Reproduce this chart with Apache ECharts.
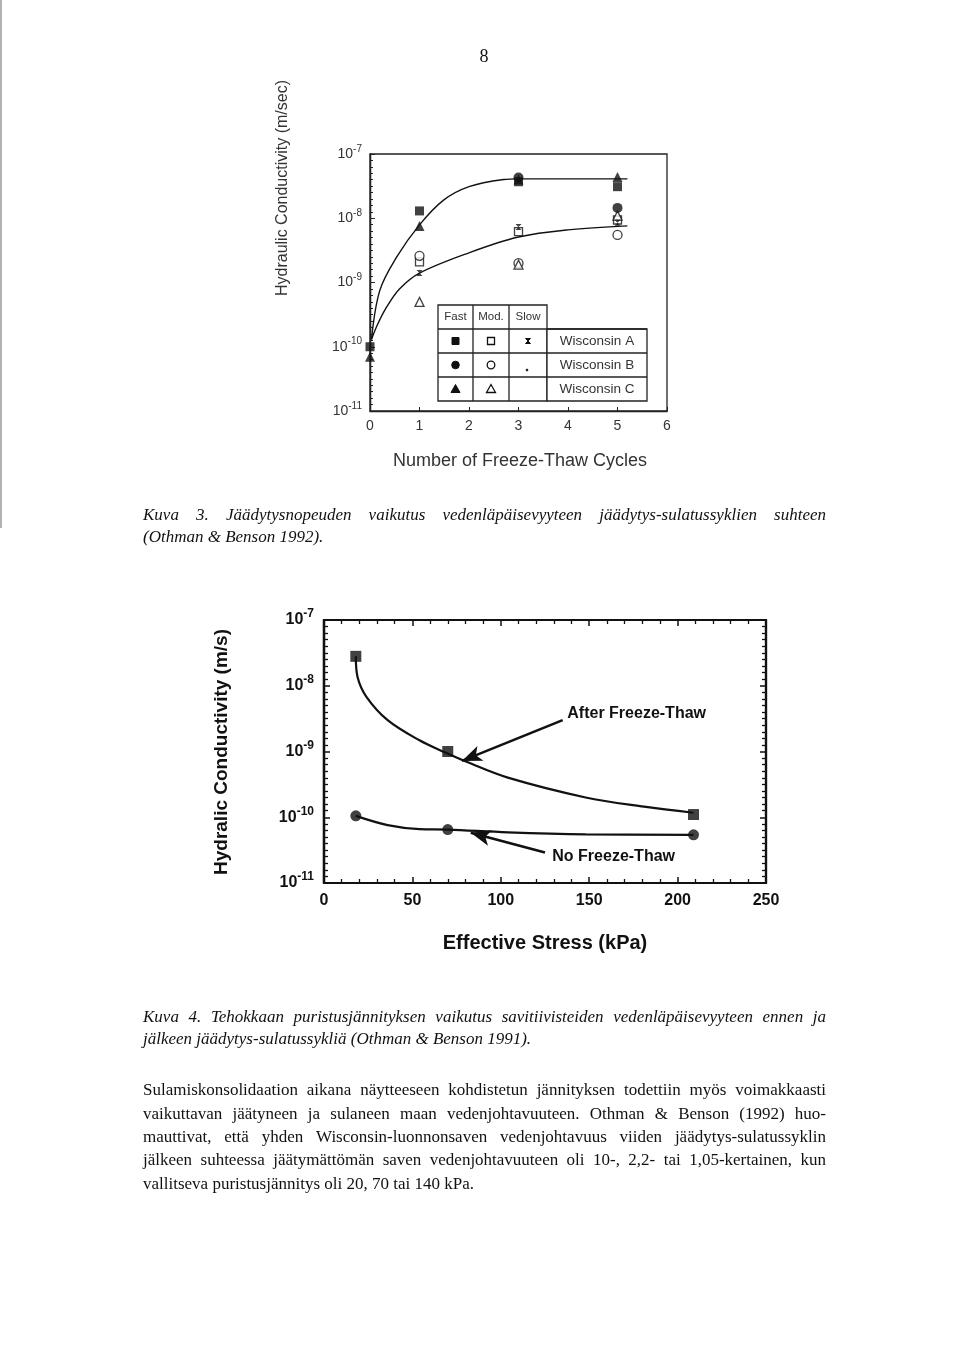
<!DOCTYPE html>
<html><head><meta charset="utf-8">
<script src="https://cdn.jsdelivr.net/npm/echarts@6/dist/echarts.min.js"></script>
<style>html,body{margin:0;padding:0;background:#fff}#c{width:960px;height:1368px}</style>
</head><body><div id="c"></div>
<script>
// ---------- Chart 1 (Kuva 3) data: hydraulic conductivity vs freeze-thaw cycles ----------
const cycleTicks = [0, 1, 2, 3, 4, 5, 6];
const aFastX = [0, 1, 3, 5];       const aFastY = [1.0e-10, 1.3e-8, 3.7e-8, 3.1e-8];
const aModX  = [1, 3, 5];          const aModY  = [2.1e-9, 6.2e-9, 9.4e-9];
const aSlowX = [1, 3, 5];          const aSlowY = [1.4e-9, 7.3e-9, 8.5e-9];
const bFastX = [3, 5];             const bFastY = [4.3e-8, 1.45e-8];
const bModX  = [1, 3, 5];          const bModY  = [2.6e-9, 2.0e-9, 5.5e-9];
const cFastX = [0, 1, 3, 5];       const cFastY = [7.0e-11, 7.6e-9, 4.0e-8, 4.4e-8];
const cModX  = [1, 3, 5];          const cModY  = [5.0e-10, 1.9e-9, 1.1e-8];
const upperCurveX = [0.03, 0.2, 0.54, 1.0, 1.48, 2.0, 2.7, 3.0, 4.0, 5.2];
const upperCurveY = [1.3e-10, 7.6e-10, 2.5e-9, 7.9e-9, 1.9e-8, 3.1e-8, 4.0e-8, 4.1e-8, 4.1e-8, 4.1e-8];
const lowerCurveX = [0.03, 0.15, 0.34, 0.6, 1.0, 2.0, 3.0, 4.0, 5.2];
const lowerCurveY = [1.3e-10, 2.2e-10, 4.2e-10, 8.0e-10, 1.4e-9, 2.9e-9, 5.1e-9, 6.6e-9, 7.6e-9];
const legendRows = ['Wisconsin A', 'Wisconsin B', 'Wisconsin C'];
const legendCols = ['Fast', 'Mod.', 'Slow'];

// ---------- Chart 2 (Kuva 4) data: hydraulic conductivity vs effective stress ----------
const stressTicks = [0, 50, 100, 150, 200, 250];
const afterX = [18, 70, 209];      const afterY = [2.8e-8, 1.0e-9, 1.1e-10];
const noFtX  = [18, 70, 209];      const noFtY  = [1.05e-10, 6.5e-11, 5.4e-11];
const afterCurveX = [18, 19, 24, 36, 54, 68, 81, 104, 148, 181, 209];
const afterCurveY = [2.8e-8, 1.35e-8, 6.8e-9, 3.0e-9, 1.48e-9, 9.8e-10, 6.9e-10, 4.0e-10, 2.0e-10, 1.45e-10, 1.17e-10];
const noFtCurveX = [18, 36, 54, 70, 104, 148, 209];
const noFtCurveY = [1.05e-10, 7.6e-11, 6.6e-11, 6.5e-11, 5.9e-11, 5.5e-11, 5.4e-11];
const afterArrow = [[135, 3.0e-9], [78, 7.2e-10]];
const noFtArrow  = [[125, 2.9e-11], [83, 5.8e-11]];
const exponentRange = [-11, -7];

// ---------- Text ----------
const pageNumber = '8';
const caption3 = ['Kuva 3. Jäädytysnopeuden vaikutus vedenläpäisevyyteen jäädytys-sulatussyklien suhteen',
                  '(Othman & Benson 1992).'];
const caption4 = ['Kuva 4. Tehokkaan puristusjännityksen vaikutus savitiivisteiden vedenläpäisevyyteen ennen ja',
                  'jälkeen jäädytys-sulatussykliä (Othman & Benson 1991).'];
const paragraph = ['Sulamiskonsolidaation aikana näytteeseen kohdistetun jännityksen todettiin myös voimakkaasti',
                   'vaikuttavan jäätyneen ja sulaneen maan vedenjohtavuuteen. Othman & Benson (1992) huo-',
                   'mauttivat, että yhden Wisconsin-luonnonsaven vedenjohtavuus viiden jäädytys-sulatussyklin',
                   'jälkeen suhteessa jäätymättömän saven vedenjohtavuuteen oli 10-, 2,2- tai 1,05-kertainen, kun',
                   'vallitseva puristusjännitys oli 20, 70 tai 140 kPa.'];

const zip = (xs, ys) => xs.map((x, i) => [x, ys[i]]);

// ---------- text helpers ----------
const cv = document.createElement('canvas').getContext('2d');
function fontStr(o) { return (o.fontStyle || 'normal') + ' ' + (o.fontWeight || 'normal') + ' ' + o.fontSize + 'px "' + o.fontFamily + '"'; }
function measure(t, o) { cv.font = fontStr(o); return cv.measureText(t).width; }
function txt(x, y, text, o) {
  o = o || {};
  const st = Object.assign({ text: text, fill: '#111', fontFamily: 'Liberation Serif', fontSize: 17,
    align: 'left', textAlign: 'left', verticalAlign: 'middle', textVerticalAlign: 'middle' }, o.style || {});
  const el = { type: 'text', x: x, y: y, silent: true, z: 100, style: st };
  if (o.rotation) el.rotation = o.rotation;
  if (o.scaleX) el.scaleX = o.scaleX;
  return el;
}
function center(o) { return Object.assign({ align: 'center', textAlign: 'center' }, o); }
const graphics = [];
function lineBlock(lines, y0, dy, fo, x0, x1, scale, justifyAll) {
  lines.forEach((ln, li) => {
    const y = y0 + li * dy;
    const words = ln.split(' ');
    const widths = words.map(w => measure(w, fo) * scale);
    const sum = widths.reduce((a, b) => a + b, 0);
    const just = justifyAll[li];
    const gap = just ? (x1 - x0 - sum) / (words.length - 1) : measure(' ', fo) * scale;
    let x = x0;
    words.forEach((w, i) => {
      graphics.push(txt(x, y, w, { style: fo, scaleX: scale }));
      x += widths[i] + gap;
    });
  });
}
const serif = { fontFamily: 'Liberation Serif', fontSize: 17, fill: '#111' };
const serifIt = { fontFamily: 'Liberation Serif', fontSize: 17, fontStyle: 'italic', fill: '#111' };
let sPar = Math.min(1, 678 / measure(paragraph[0], serif));
let sCap = Math.min(1, 678 / measure(caption4[0], serifIt));

graphics.push(txt(484, 57, pageNumber, { style: center({ fontSize: 18 }) }));
graphics.push({ type: 'line', silent: true, shape: { x1: 1, y1: 0, x2: 1, y2: 528 }, style: { stroke: '#999', lineWidth: 1.5 } });
lineBlock(caption3, 516, 22, serifIt, 143, 826, sCap, [true, false]);
lineBlock(caption4, 1018, 22, serifIt, 143, 826, sCap, [true, false]);
lineBlock(paragraph, 1091, 23.3, serif, 143, 826, sPar, [true, true, true, true, false]);

// Chart 1 axis names
const sans1 = { fontFamily: 'Liberation Sans', fill: '#333' };
graphics.push(txt(283, 188, 'Hydraulic Conductivity (m/sec)', { rotation: Math.PI / 2, style: center(Object.assign({ fontSize: 16 }, sans1)) }));
graphics.push(txt(520, 461, 'Number of Freeze-Thaw Cycles', { style: center(Object.assign({ fontSize: 18 }, sans1)) }));

// Chart 1 legend table
const tl = { stroke: '#222', lineWidth: 1.3 };
function ln(x1, y1, x2, y2) { graphics.push({ type: 'line', silent: true, z: 90, shape: { x1, y1, x2, y2 }, style: tl }); }
graphics.push({ type: 'rect', silent: true, z: 80, shape: { x: 438, y: 305, width: 109, height: 96 }, style: { fill: '#fff', stroke: '#222', lineWidth: 1.3 } });
graphics.push({ type: 'rect', silent: true, z: 80, shape: { x: 547, y: 329, width: 100, height: 72 }, style: { fill: '#fff', stroke: '#222', lineWidth: 1.3 } });
ln(473, 305, 473, 401); ln(509, 305, 509, 401);
ln(438, 329, 647, 329); ln(438, 353, 647, 353); ln(438, 377, 647, 377);
const colC = [455.5, 491, 528];
legendCols.forEach((c, i) => graphics.push(txt(colC[i], 317, c, { style: center(Object.assign({ fontSize: 11.5 }, sans1)) })));
legendRows.forEach((r, i) => graphics.push(txt(597, 341 + i * 24, r, { style: center(Object.assign({ fontSize: 13.5 }, sans1)) })));
const fillS = { fill: '#111', stroke: '#111', lineWidth: 1 };
const openS = { fill: '#fff', stroke: '#111', lineWidth: 1.3 };
function sym(kind, cx, cy, st) {
  let el;
  if (kind === 'sq') el = { type: 'rect', shape: { x: cx - 3.5, y: cy - 3.5, width: 7, height: 7 } };
  else if (kind === 'ci') el = { type: 'circle', shape: { cx, cy, r: 3.8 } };
  else if (kind === 'tr') el = { type: 'polygon', shape: { points: [[cx, cy - 4.5], [cx + 4.5, cy + 3.5], [cx - 4.5, cy + 3.5]] } };
  else if (kind === 'bt') el = { type: 'polygon', shape: { points: [[cx - 2.5, cy - 2.5], [cx + 2.5, cy - 2.5], [cx - 2.5, cy + 2.5], [cx + 2.5, cy + 2.5]] } };
  else if (kind === 'dot') el = { type: 'circle', shape: { cx, cy, r: 0.9 } };
  el.silent = true; el.z = 95; el.style = st; graphics.push(el);
}
sym('sq', colC[0], 341, fillS); sym('sq', colC[1], 341, openS); sym('bt', colC[2], 341, fillS);
sym('ci', colC[0], 365, fillS); sym('ci', colC[1], 365, openS); sym('dot', 527, 370, fillS);
sym('tr', colC[0], 389, fillS); sym('tr', colC[1], 389, openS);

// Chart 2 names and annotations
const sans2 = { fontFamily: 'Liberation Sans', fontWeight: 'bold', fill: '#111' };
graphics.push(txt(222, 752, 'Hydralic Conductivity (m/s)', { rotation: Math.PI / 2, style: center(Object.assign({ fontSize: 19 }, sans2)) }));
graphics.push(txt(545, 943, 'Effective Stress (kPa)', { style: center(Object.assign({ fontSize: 20 }, sans2)) }));
graphics.push(txt(706, 714, 'After Freeze-Thaw', { style: Object.assign({ fontSize: 16, align: 'right', textAlign: 'right' }, sans2) }));
graphics.push(txt(675, 857, 'No Freeze-Thaw', { style: Object.assign({ fontSize: 16, align: 'right', textAlign: 'right' }, sans2) }));

// ---------- axes ----------
function logLabel(size, weight, color, supSize) {
  return {
    formatter: v => '{b|10}{s|' + Math.round(Math.log10(v)) + '}',
    rich: {
      b: { fontSize: size, fontWeight: weight, color: color, fontFamily: 'Liberation Sans' },
      s: { fontSize: supSize, fontWeight: weight, color: color, fontFamily: 'Liberation Sans', padding: [0, 0, size * 0.75, 0] }
    }
  };
}
const black = '#111';
// evenly spaced decade sub-ticks, drawn on exponent-space helper axes
function expAxis(grid, pos, color, len, mlen, w) {
  return { gridIndex: grid, type: 'value', position: pos, offset: 0, min: exponentRange[0], max: exponentRange[1], interval: 1,
    splitLine: { show: false }, axisLine: { show: true, lineStyle: { color: color, width: w } }, axisLabel: { show: false },
    axisTick: { inside: true, length: len, lineStyle: { color: color, width: w > 2 ? 1.5 : 1 } },
    minorTick: { show: true, splitNumber: 10, length: mlen, lineStyle: { color: color, width: w > 2 ? 1.3 : 1 } } };
}
const option = {
  animation: false,
  backgroundColor: '#fff',
  grid: [
    { left: 370, top: 154, width: 297, height: 257, show: true, borderColor: '#222', borderWidth: 1.3, backgroundColor: 'transparent' },
    { left: 324, top: 620, width: 442, height: 263, show: true, borderColor: black, borderWidth: 2.2, backgroundColor: 'transparent' }
  ],
  xAxis: [
    { gridIndex: 0, type: 'value', min: 0, max: 6, interval: 1, splitLine: { show: false },
      axisLine: { lineStyle: { color: '#222', width: 1.3 } },
      axisTick: { inside: true, length: 4, lineStyle: { color: '#222' } },
      axisLabel: { margin: 8, fontSize: 14, color: '#333', fontFamily: 'Liberation Sans', formatter: v => String(cycleTicks[cycleTicks.indexOf(v)]) } },
    { gridIndex: 1, type: 'value', min: 0, max: 250, interval: 50, splitLine: { show: false },
      axisLine: { lineStyle: { color: black, width: 2.2 } },
      axisTick: { inside: true, length: 6, lineStyle: { color: black, width: 1.5 } },
      minorTick: { show: true, splitNumber: 5, length: 4, lineStyle: { color: black, width: 1.3 } },
      axisLabel: { margin: 10, fontSize: 16, fontWeight: 'bold', color: black, fontFamily: 'Liberation Sans', formatter: v => String(stressTicks[stressTicks.indexOf(v)]) } },
    { gridIndex: 1, type: 'value', position: 'top', min: 0, max: 250, interval: 50, splitLine: { show: false },
      axisLine: { lineStyle: { color: black, width: 2.2 } },
      axisTick: { inside: true, length: 6, lineStyle: { color: black, width: 1.5 } },
      minorTick: { show: true, splitNumber: 5, length: 4, lineStyle: { color: black, width: 1.3 } },
      axisLabel: { show: false } }
  ],
  yAxis: [
    { gridIndex: 0, type: 'log', logBase: 10, min: 1e-11, max: 1e-7, splitLine: { show: false },
      axisLine: { lineStyle: { color: '#222', width: 1.3 } },
      axisTick: { show: false }, minorTick: { show: false },
      axisLabel: Object.assign({ margin: 8 }, logLabel(14, 'normal', '#333', 10)) },
    { gridIndex: 1, type: 'log', logBase: 10, min: 1e-11, max: 1e-7, splitLine: { show: false },
      axisLine: { lineStyle: { color: black, width: 2.2 } },
      axisTick: { show: false }, minorTick: { show: false },
      axisLabel: Object.assign({ margin: 10 }, logLabel(16, 'bold', black, 12)) },
    expAxis(0, 'left', '#222', 5, 3, 1.3),
    expAxis(1, 'left', black, 6, 4, 2.2),
    expAxis(1, 'right', black, 6, 4, 2.2)
  ],
  series: [],
  graphic: { elements: graphics }
};

const curve = (xs, ys, xi, yi, w) => ({ type: 'line', xAxisIndex: xi, yAxisIndex: yi, data: zip(xs, ys), smooth: 0.35,
  showSymbol: false, symbol: 'none', z: 2, lineStyle: { color: '#111', width: w }, silent: true });
const scat = (xs, ys, xi, yi, symbol, size, filled) => ({ type: 'scatter', xAxisIndex: xi, yAxisIndex: yi, data: zip(xs, ys),
  symbol: symbol, symbolSize: size, z: 5, silent: true,
  itemStyle: filled ? { color: '#111' } : { color: '#fff', borderColor: '#111', borderWidth: 1.3 } });

const bowtie = 'path://M0,0L10,0L0,10L10,10Z';
option.series.push(
  curve(upperCurveX, upperCurveY, 0, 0, 1.4),
  curve(lowerCurveX, lowerCurveY, 0, 0, 1.4),
  scat(aModX, aModY, 0, 0, 'rect', 8, false),
  scat(bModX, bModY, 0, 0, 'circle', 9, false),
  scat(cModX, cModY, 0, 0, 'triangle', 9, false),
  scat(aSlowX, aSlowY, 0, 0, bowtie, [6, 6], true),
  scat(aFastX, aFastY, 0, 0, 'rect', 9, true),
  scat(bFastX, bFastY, 0, 0, 'circle', 10, true),
  scat(cFastX, cFastY, 0, 0, 'triangle', 10, true)
);
const afterLine = curve(afterCurveX, afterCurveY, 1, 1, 2.2);
afterLine.markLine = { silent: true, symbol: ['none', 'arrow'], symbolSize: [12, 20], label: { show: false },
  lineStyle: { color: '#111', width: 2.6, type: 'solid' },
  data: [[{ coord: afterArrow[0] }, { coord: afterArrow[1] }], [{ coord: noFtArrow[0] }, { coord: noFtArrow[1] }]] };
option.series.push(
  afterLine,
  curve(noFtCurveX, noFtCurveY, 1, 1, 2.2),
  scat(afterX, afterY, 1, 1, 'rect', 11, true),
  scat(noFtX, noFtY, 1, 1, 'circle', 11, true)
);

const chart = echarts.init(document.getElementById('c'), null, { renderer: 'canvas' });
chart.setOption(option);
</script></body></html>
